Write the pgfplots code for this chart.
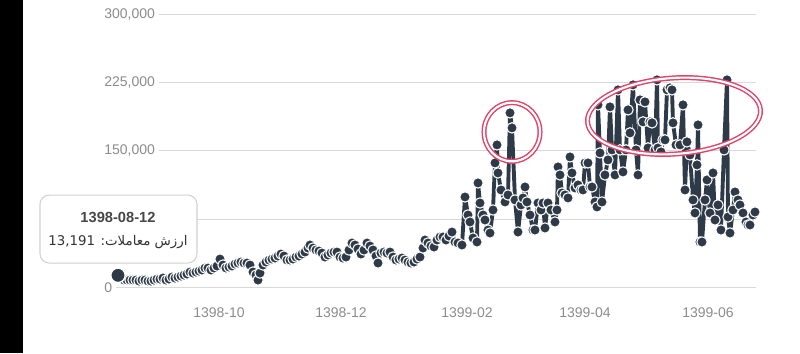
\documentclass[border=0pt]{standalone}
\usepackage{fontspec}
\setmainfont{Liberation Sans}
\newfontfamily\arabicfont[Script=Arabic]{DejaVu Sans}
\TeXXeTstate=1
\usepackage{pgfplots}
\usepackage{pgfplotstable}
\pgfplotsset{compat=1.18}
\definecolor{slate}{HTML}{2E3A48}
\definecolor{gridc}{HTML}{D9D9D9}
\definecolor{tickc}{HTML}{8C8C8C}
\definecolor{hl}{HTML}{E04468}
\pgfplotstableread{
x y
0 13191
1.5 9100
3 8000
4.5 8000
6 8000
7.5 8000
9 8000
10.5 6900
12 8000
13.5 8000
15 6900
16.5 6900
18 8000
19.5 9100
21 9100
22.5 10200
24 8000
25.5 9100
27 11300
28.5 10200
30 11300
31.5 12400
33 13500
34.5 14600
36 16800
37.5 15700
39 16800
40.5 17900
42 19000
43.5 21200
45 21200
46.5 19000
48 21200
49.5 23400
51 31100
52.5 24500
54 21200
55.5 22300
57 23400
58.5 25600
60 26700
61.5 27800
63 26700
64.5 26700
66 24500
67.5 16800
69 13500
70 8000
71 15700
72.5 24500
74 27800
75.5 30000
77 31100
78.5 32200
80 34400
81.5 36600
83 34400
84.5 30000
86 30000
87.5 31100
89 33300
90.5 34400
92 36600
93.5 38800
95 43200
96 46500
97.5 43200
99 41000
100.5 39900
102 37700
103.5 33300
105 35500
106.5 37700
108 38800
109.5 38800
111 33300
112.5 32200
114 33300
115.5 41000
117 48700
118.5 46500
120 42100
121.5 36600
123 41000
124.5 48700
126 45400
127.5 41000
129 34400
130 26700
131.5 37700
133 38800
134.5 37700
136 38800
137.5 33300
139 30000
140.5 31100
142 32200
143.5 30000
145 27800
146.5 26700
148 27800
149.5 31100
151 33300
152.5 43200
153.5 52000
155 48700
156.5 45400
158 44300
159.5 52000
161 55300
162.5 55300
164 52000
165.5 56400
167 60800
168.5 49800
170 48700
172 46500
173.5 99300
175 79500
176 71800
177.5 54200
179.5 49800
180 114700
181 92700
182.5 79500
183.5 74000
185 63000
186 59700
187.5 85000
188.5 136700
189.5 156500
190 125700
191.5 107000
193.5 93800
195 101500
196 191700
197 175200
198.5 96000
200 60800
201.5 90500
202.5 98200
203.5 110300
204.5 93800
206 79500
207.5 63000
208.5 63000
210 92700
211.5 85000
212.5 92700
213.5 65200
215 92700
216.5 85000
218.5 71800
219.5 85000
220 132300
221 123500
222 103700
223.5 101500
225 98200
226 143300
227 125700
228.5 109200
230 112500
231.5 107000
232.5 107000
233.5 136700
235 136700
236 110300
237 110300
238.5 93800
239.5 88300
240 200500
241 147700
242 93800
243.5 123500
245 140000
246 198300
247 151000
248.5 123500
250 217000
251 151000
252.5 126800
254 151000
255 195000
256 169700
257.5 222500
259 151000
260 123500
261 206000
262.5 181800
263.5 203800
265 153200
266 181800
267 180700
268.5 151000
269.5 228000
270 153200
271.5 148800
272.5 162000
273.5 162000
274.5 217000
276 219200
277 217000
277.5 180700
279 156500
281 156500
282.5 200500
283.5 107000
284.5 159800
286 145500
287.5 96000
288.5 81700
289.5 134500
290 178500
291 49800
292 49800
293.5 96000
294.5 118000
296 81700
297.5 125700
298.5 74000
300 90500
301.5 63000
303 151000
304.5 228000
305 77300
306 59700
307.5 85000
308.5 104800
310 96000
311 90500
312.5 81700
314 71800
315 68500
316 68500
317.5 79500
318.5 82800
}\datatable
\begin{document}
\begin{tikzpicture}
\useasboundingbox (-78pt,-49.3pt) rectangle (522pt,215.5pt);
\begin{axis}[
  at={(0,0)}, anchor=south west,
  scale only axis, width=489pt, height=204.75pt,
  xmin=-7, xmax=319, ymin=0, ymax=300000,
  clip=false,
  axis line style={draw=none}, tick style={draw=none},
  ymajorgrids, grid style={gridc, line width=0.7pt},
  ytick={0,75000,150000,225000,300000},
  yticklabels={0,,150{,}000,225{,}000,300{,}000},
  scaled y ticks=false,
  xtick={50.5,111.5,174.5,233.5,295},
  xticklabels={1398-10,1398-12,1399-02,1399-04,1399-06},
  yticklabel style={anchor=west, fill=white, inner xsep=3pt, xshift=-3pt, text=tickc, font=\fontsize{10.5}{12}\selectfont},
  xticklabel style={text=tickc, font=\fontsize{10.5}{12}\selectfont, yshift=-12pt},
]
\addplot[slate, line width=2.9pt, line join=round, mark=*, mark size=3.9pt,
  mark options={fill=slate, draw=white, line width=0.8pt, solid}] table[x=x,y=y] {\datatable};
\addplot[only marks, mark=*, mark size=5.4pt, mark options={fill=slate, draw=white, line width=1pt}] coordinates {(0,13191)};
\end{axis}
% tooltip
\draw[black!18, fill=white, rounded corners=7pt, line width=0.8pt] (-48pt,18.2pt) rectangle (69.75pt,69.2pt);
\node[font=\bfseries\fontsize{11}{13}\selectfont, text=black!72] at (10.5pt,52.7pt) {1398-08-12};
\node[font=\arabicfont\fontsize{10}{13}\selectfont, text=black!80] at (10.5pt,34pt) {\beginR ارزش معاملات: \beginL13,191\endL\endR};
% annotations
\draw[hl, double=white, double distance=1.6pt, line width=1.1pt] (306pt,116.5pt) ellipse [x radius=21pt, y radius=22pt];
\draw[hl, double=white, double distance=1.6pt, line width=1.1pt, rotate around={4:(427.5pt,128.5pt)}] (427.5pt,128.5pt) ellipse [x radius=65pt, y radius=28.5pt];
% black bar
\fill[black] (-78pt,-49.3pt) rectangle (-60.4pt,215.5pt);
\end{tikzpicture}
\end{document}
